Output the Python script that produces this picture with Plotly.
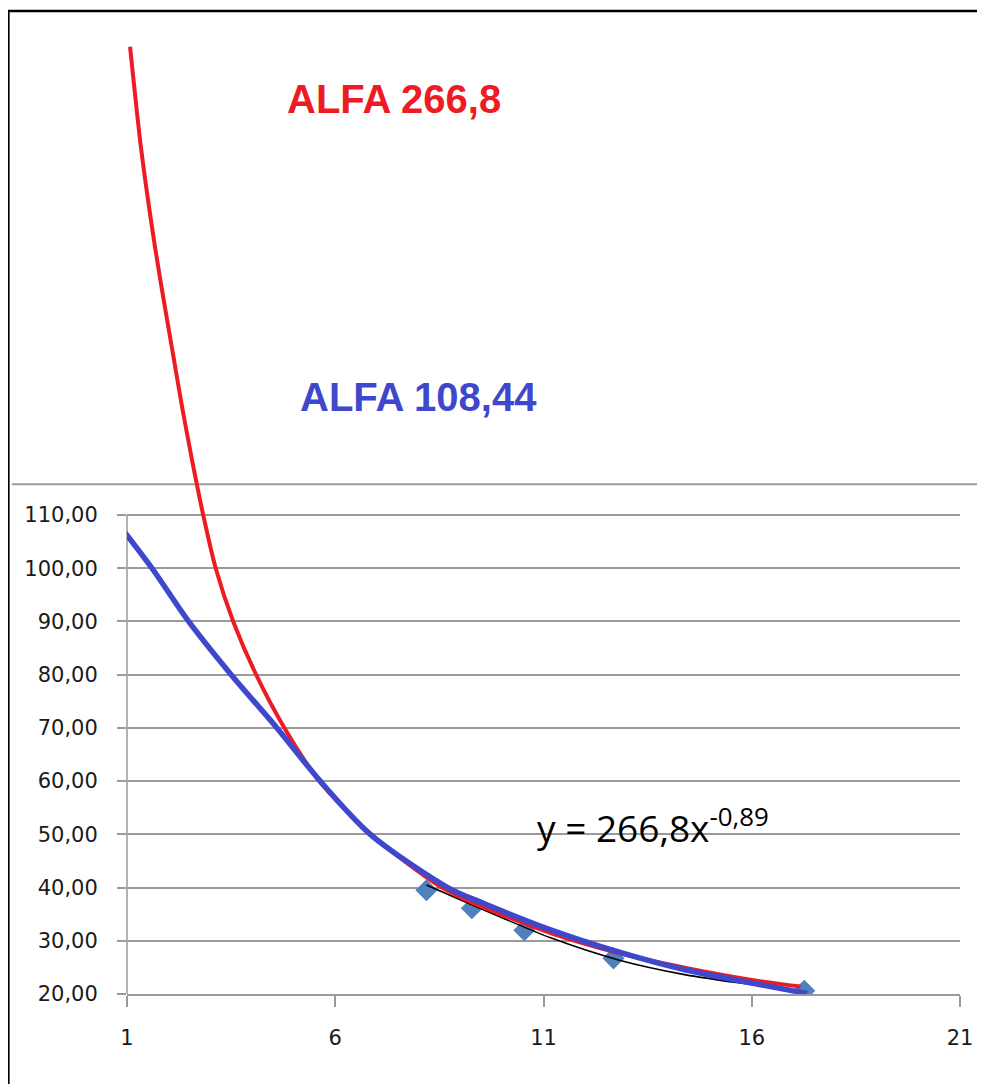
import plotly.graph_objects as go

# ---- data ----
red_x = [1.073, 1.18, 1.32, 1.49, 1.68, 1.89, 2.11, 2.33, 2.57, 2.83, 3.13, 3.55,
         4.10, 4.78, 5.62, 6.86, 8.50, 9.25, 11.19, 12.80, 14.42, 16.04, 17.17]
red_y = [198.0, 190.0, 180.0, 170.0, 160.0, 150.0, 140.0, 130.0, 120.0, 110.0, 100.0, 90.0,
         80.0, 70.0, 60.0, 50.0, 40.3, 37.3, 31.4, 27.7, 24.9, 22.6, 21.4]

blue_x = [0.87, 1.60, 2.48, 3.50, 4.60, 5.64, 6.84, 8.70, 9.57, 11.19, 12.80, 14.42,
          16.04, 17.33]
blue_y = [107.5, 100.0, 90.0, 80.0, 70.0, 60.0, 50.0, 40.0, 37.0, 32.0, 27.9, 24.5,
          22.0, 20.1]

black_x = [8.19, 9.57, 11.19, 12.80, 14.42, 16.04, 17.17]
black_y = [40.5, 35.8, 30.5, 26.4, 23.6, 21.7, 20.4]

pts_x = [8.19, 9.28, 10.54, 12.68, 17.26]
pts_y = [39.5, 36.1, 32.0, 26.7, 20.6]

x_ticks = [1, 6, 11, 16, 21]
y_ticks = [20, 30, 40, 50, 60, 70, 80, 90, 100, 110]
y_tick_text = ["20,00", "30,00", "40,00", "50,00", "60,00", "70,00", "80,00",
               "90,00", "100,00", "110,00"]

label_red = "ALFA 266,8"
label_blue = "ALFA 108,44"
equation = "y = 266,8x<sup>-0,89</sup>"

GRID = "#9a9a9a"

fig = go.Figure()
fig.add_trace(go.Scatter(x=pts_x, y=pts_y, mode="markers",
                         marker=dict(symbol="diamond", size=17, color="#4F81BD"),
                         showlegend=False, hoverinfo="skip"))
fig.add_trace(go.Scatter(x=black_x, y=black_y, mode="lines",
                         line=dict(color="black", width=1.6, shape="spline", smoothing=0.8),
                         showlegend=False, hoverinfo="skip"))
fig.add_trace(go.Scatter(x=red_x, y=red_y, mode="lines",
                         line=dict(color="#ED1C24", width=4, shape="spline", smoothing=0.8),
                         showlegend=False, hoverinfo="skip"))
fig.add_trace(go.Scatter(x=blue_x, y=blue_y, mode="lines",
                         line=dict(color="#3F48CC", width=5.5, shape="spline", smoothing=0.8),
                         showlegend=False, hoverinfo="skip"))

tick_font = dict(family="DejaVu Sans", size=21, color="#1a1a1a")

# page body has an 8px margin: figure is shifted accordingly
fig.update_layout(
    width=977, height=1076, autosize=False,
    margin=dict(l=119, r=25, t=2, b=90, pad=0),
    paper_bgcolor="white", plot_bgcolor="white",
    xaxis=dict(range=[1, 21], tickvals=x_ticks, ticktext=[str(v) for v in x_ticks],
               showgrid=False, zeroline=False, showline=True, linecolor=GRID, linewidth=1.5,
               ticks="outside", ticklen=11, tickwidth=1.5, tickcolor=GRID,
               tickfont=tick_font, ticklabelstandoff=13),
    yaxis=dict(range=[20, 204.9], tickvals=y_ticks, ticktext=y_tick_text,
               showgrid=True, gridcolor=GRID, gridwidth=1.5, zeroline=False,
               showline=False, ticks="outside", ticklen=9, tickwidth=1.5, tickcolor=GRID,
               tickfont=tick_font, ticklabelstandoff=15),
)

# y axis line (only across the gridded part)
fig.add_shape(type="line", xref="paper", yref="y", x0=0, x1=0, y0=20, y1=110,
              line=dict(color=GRID, width=1.5), layer="below")
# separating gray line above the plot
fig.add_shape(type="line", xref="paper", yref="y", x0=-0.138, x1=1.05, y0=115.8, y1=115.8,
              line=dict(color=GRID, width=2), layer="below")
# outer black border (cut by the image edges on right/bottom)
fig.add_shape(type="rect", xref="paper", yref="paper", x0=-0.1424, x1=1.06, y0=-0.12, y1=0.999,
              line=dict(color="black", width=2.5), fillcolor="rgba(0,0,0,0)")

fig.add_annotation(x=4.80, y=188.2, xref="x", yref="y", text=label_red, showarrow=False,
                   xanchor="left", yanchor="middle",
                   font=dict(family="Liberation Sans", size=40, color="#ED1C24", weight="bold"))
fig.add_annotation(x=5.10, y=132.1, xref="x", yref="y", text=label_blue, showarrow=False,
                   xanchor="left", yanchor="middle",
                   font=dict(family="Liberation Sans", size=40, color="#3F48CC", weight="bold"))
fig.add_annotation(x=10.80, y=51.6, xref="x", yref="y", text=equation, showarrow=False,
                   xanchor="left", yanchor="middle",
                   font=dict(family="Open Sans", size=37, color="black"))

fig.write_html("out.html")
